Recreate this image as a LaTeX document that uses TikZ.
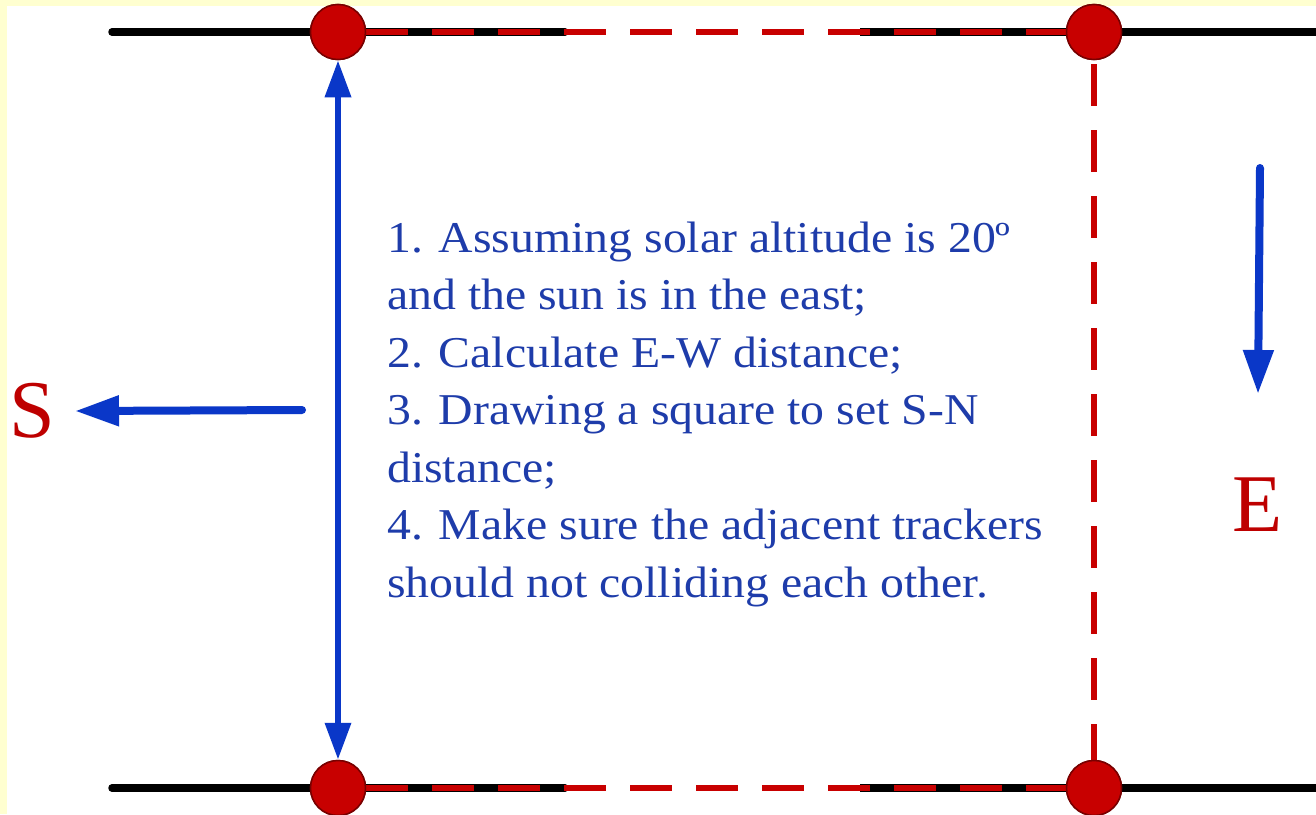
\documentclass[tikz,border=0pt]{standalone}
\usepackage{fontspec}
\setmainfont{Liberation Serif}
\usetikzlibrary{arrows.meta}
\definecolor{bgyellow}{RGB}{255,255,208}
\definecolor{dotred}{RGB}{200,0,0}
\definecolor{dotedge}{RGB}{120,0,0}
\definecolor{arrowblue}{RGB}{10,55,200}
\definecolor{textblue}{RGB}{30,60,170}
\definecolor{labelred}{RGB}{190,0,0}
\tikzset{
  rail/.style={line width=7.5pt, black, line cap=round},
  reddash/.style={line width=5.5pt, dotred, dash pattern=on 42pt off 24pt},
  dot/.style={circle, minimum size=55pt, inner sep=0pt, fill=dotred, draw=dotedge, line width=1.5pt},
  bluearrow/.style={line width=8pt, arrowblue, line cap=round, -{Triangle[length=44pt,width=29pt]}},
  bluedouble/.style={line width=6.5pt, arrowblue, {Triangle[length=37pt,width=25pt]}-{Triangle[length=37pt,width=25pt]}},
  noteline/.style={anchor=base west, inner sep=0pt, text=textblue, font=\fontsize{44}{57.5}\selectfont, xscale=1.085},
  dirlabel/.style={inner sep=0pt, text=labelred, font=\fontsize{82}{86}\selectfont}
}
\begin{document}
\begin{tikzpicture}[x=1pt,y=-1pt]
\useasboundingbox (0,0) rectangle (1316,814);
\fill[bgyellow] (0,0) rectangle (1316,814);
\fill[white] (7,6) rectangle (1316,814);
% rails
\coordinate (tLend) at (112,32);
\coordinate (tLstop) at (565,32);
\coordinate (tRstart) at (860,32);
\coordinate (tRend) at (1316,32);
\coordinate (bLend) at (112,788);
\coordinate (bLstop) at (565,788);
\coordinate (bRstart) at (860,788);
\coordinate (bRend) at (1316,788);
\draw[rail] (tLend) -- (tLstop);
\draw[rail, line cap=butt] (tRstart) -- (tRend);
\draw[rail] (bLend) -- (bLstop);
\draw[rail, line cap=butt] (bRstart) -- (bRend);
% dots
\node[dot] (tl) at (338,32) {};
\node[dot] (tr) at (1094,32) {};
\node[dot] (bl) at (338,788) {};
\node[dot] (br) at (1094,788) {};
% dashed square
\draw[reddash] (tl.east) -- (tr.west);
\draw[reddash] (bl.east) -- (br.west);
\draw[reddash, dash phase=-4pt] (tr.south) -- (br.north);
\node[dot] at (tl) {};
\node[dot] at (tr) {};
\node[dot] at (bl) {};
\node[dot] at (br) {};
% S-N distance arrow
\draw[bluedouble] (tl.south) -- (bl.north);
% direction labels
\node[dirlabel] (S) at (32,411) {S};
\coordinate (sStart) at (302,410);
\draw[bluearrow] (sStart) -- ([xshift=20pt]S.east);
\node[dirlabel] (E) at (1258,505) {E};
\coordinate (eStart) at (1260,168);
\draw[bluearrow] (eStart) -- ([yshift=84pt]E.north);
% notes
\node[noteline] (n1) at (387,252) {1. Assuming solar altitude is 20º};
\node[noteline] (n2) at (387,309.5) {and the sun is in the east;};
\node[noteline] (n3) at (387,367) {2. Calculate E-W distance;};
\node[noteline] (n4) at (387,424.5) {3. Drawing a square to set S-N};
\node[noteline] (n5) at (387,482) {distance;};
\node[noteline] (n6) at (387,539.5) {4. Make sure the adjacent trackers};
\node[noteline] (n7) at (387,597) {should not colliding each other.};
\end{tikzpicture}
\end{document}
